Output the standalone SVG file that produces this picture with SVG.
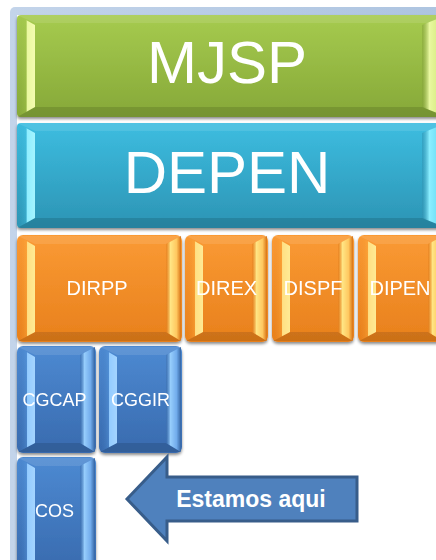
<svg xmlns="http://www.w3.org/2000/svg" width="436" height="560" viewBox="0 0 436 560">
  <defs>
    <linearGradient id="frameG" x1="0" y1="0" x2="1" y2="0">
      <stop offset="0" stop-color="#c3d4ea"/>
      <stop offset="1" stop-color="#adc4e0"/>
    </linearGradient>
    <linearGradient id="greenF" x1="0" y1="0" x2="0" y2="1">
      <stop offset="0" stop-color="#a6cb4f"/>
      <stop offset="1" stop-color="#86a838"/>
    </linearGradient>
    <linearGradient id="tealF" x1="0" y1="0" x2="0" y2="1">
      <stop offset="0" stop-color="#3dbde0"/>
      <stop offset="1" stop-color="#2c94b4"/>
    </linearGradient>
    <linearGradient id="orangeF" x1="0" y1="0" x2="0" y2="1">
      <stop offset="0" stop-color="#fa9a34"/>
      <stop offset="1" stop-color="#e8801c"/>
    </linearGradient>
    <linearGradient id="blueF" x1="0" y1="0" x2="0" y2="1">
      <stop offset="0" stop-color="#4d8ad2"/>
      <stop offset="1" stop-color="#386aae"/>
    </linearGradient>
    <linearGradient id="greenL" x1="0" y1="0" x2="1" y2="0">
      <stop offset="0" stop-color="#8fb040" stop-opacity="0"/>
      <stop offset="0.5" stop-color="#a8c850" stop-opacity="0.4"/>
      <stop offset="0.56" stop-color="#eaf8a0"/>
      <stop offset="1" stop-color="#f4fcb0"/>
    </linearGradient>
    <linearGradient id="greenR" x1="0" y1="0" x2="1" y2="0">
      <stop offset="0" stop-color="#7f9e34" stop-opacity="0.5"/>
      <stop offset="0.3" stop-color="#e9f8a0"/>
      <stop offset="0.7" stop-color="#d6ec80"/>
      <stop offset="1" stop-color="#7a9a32"/>
    </linearGradient>
    <linearGradient id="tealL" x1="0" y1="0" x2="1" y2="0">
      <stop offset="0" stop-color="#2f9cbc" stop-opacity="0"/>
      <stop offset="0.5" stop-color="#48c0e0" stop-opacity="0.4"/>
      <stop offset="0.56" stop-color="#90eeff"/>
      <stop offset="1" stop-color="#a4f4ff"/>
    </linearGradient>
    <linearGradient id="tealR" x1="0" y1="0" x2="1" y2="0">
      <stop offset="0" stop-color="#2a8eae" stop-opacity="0.5"/>
      <stop offset="0.3" stop-color="#8aeeff"/>
      <stop offset="0.7" stop-color="#6adcf4"/>
      <stop offset="1" stop-color="#2a8aa8"/>
    </linearGradient>
    <linearGradient id="orangeL" x1="0" y1="0" x2="1" y2="0">
      <stop offset="0" stop-color="#e8841e" stop-opacity="0"/>
      <stop offset="0.5" stop-color="#ffb040" stop-opacity="0.4"/>
      <stop offset="0.56" stop-color="#ffe084"/>
      <stop offset="1" stop-color="#ffea94"/>
    </linearGradient>
    <linearGradient id="orangeR" x1="0" y1="0" x2="1" y2="0">
      <stop offset="0" stop-color="#e07818" stop-opacity="0.5"/>
      <stop offset="0.3" stop-color="#ffe584"/>
      <stop offset="0.7" stop-color="#ffc860"/>
      <stop offset="1" stop-color="#d87214"/>
    </linearGradient>
    <linearGradient id="blueL" x1="0" y1="0" x2="1" y2="0">
      <stop offset="0" stop-color="#3a70b4" stop-opacity="0"/>
      <stop offset="0.5" stop-color="#5a9ce0" stop-opacity="0.4"/>
      <stop offset="0.56" stop-color="#94ccff"/>
      <stop offset="1" stop-color="#a4d4ff"/>
    </linearGradient>
    <linearGradient id="blueR" x1="0" y1="0" x2="1" y2="0">
      <stop offset="0" stop-color="#3668a8" stop-opacity="0.5"/>
      <stop offset="0.3" stop-color="#96cdfc"/>
      <stop offset="0.7" stop-color="#72acec"/>
      <stop offset="1" stop-color="#3464a2"/>
    </linearGradient>
    <filter id="sh" x="-10%" y="-10%" width="120%" height="130%">
      <feDropShadow dx="0" dy="2" stdDeviation="1.5" flood-color="#000" flood-opacity="0.45"/>
    </filter>
    <style>
      .node { filter: url(#sh); }
      .bt { fill: #ffffff; fill-opacity: 0.1; }
      .bb { fill: #000000; fill-opacity: 0.12; }
      .green .face { fill: url(#greenF); }
      .green .bl { fill: url(#greenL); }
      .green .br { fill: url(#greenR); }
      .teal .face { fill: url(#tealF); }
      .teal .bl { fill: url(#tealL); }
      .teal .br { fill: url(#tealR); }
      .orange .face { fill: url(#orangeF); }
      .orange .bl { fill: url(#orangeL); }
      .orange .br { fill: url(#orangeR); }
      .blue .face { fill: url(#blueF); }
      .blue .bl { fill: url(#blueL); }
      .blue .br { fill: url(#blueR); }
      text { font-family: "Liberation Sans", Arial, sans-serif; fill: #ffffff; text-anchor: middle; }
      .big { font-size: 60px; }
      .mid { font-size: 20px; }
      .sm { font-size: 18px; }
      .arrow { fill: #4f81bd; stroke: #385d8a; stroke-width: 3; stroke-linejoin: miter; }
      .atext { font-size: 23px; font-weight: bold; }
    </style>
  </defs>

  <rect x="0" y="0" width="436" height="560" fill="#ffffff"/>
  <g id="frame">
    <rect x="10" y="7" width="440" height="570" rx="5" fill="url(#frameG)"/>
    <rect x="17" y="15" width="430" height="560" fill="#ffffff"/>
  </g>

  <g id="mjsp" class="node green">
    <rect class="face" x="17" y="15" width="430" height="102" rx="4"/>
    <polygon class="bt" points="17,15 447,15 437,23 35,23"/>
    <polygon class="bb" points="17,117 447,117 437,107 35,107"/>
    <polygon class="bl" points="17,15 35,25 35,107 17,117"/>
    <polygon class="br" points="447,15 422,25 422,107 447,117"/>
    <text class="big" x="227" y="83">MJSP</text>
  </g>

  <g id="depen" class="node teal">
    <rect class="face" x="17" y="123" width="430" height="105" rx="4"/>
    <polygon class="bt" points="17,123 447,123 437,131 35,131"/>
    <polygon class="bb" points="17,228 447,228 437,218 35,218"/>
    <polygon class="bl" points="17,123 35,133 35,218 17,228"/>
    <polygon class="br" points="447,123 422,133 422,218 447,228"/>
    <text class="big" x="227" y="193">DEPEN</text>
  </g>

  <g id="dirpp" class="node orange">
    <rect class="face" x="17" y="235" width="165" height="107" rx="6"/>
    <polygon class="bt" points="18,236 181,236 166,244 35,244"/>
    <polygon class="bb" points="18,341 181,341 166,332 35,332"/>
    <polygon class="bl" points="18,236 35,246 35,332 18,341"/>
    <polygon class="br" points="181,236 166,244 166,332 181,341"/>
    <text class="mid" x="97" y="295">DIRPP</text>
  </g>

  <g id="direx" class="node orange">
    <rect class="face" x="185" y="235" width="83" height="107" rx="6"/>
    <polygon class="bt" points="186,236 267,236 252,244 203,244"/>
    <polygon class="bb" points="186,341 267,341 252,332 203,332"/>
    <polygon class="bl" points="186,236 203,246 203,332 186,341"/>
    <polygon class="br" points="267,236 252,244 252,332 267,341"/>
    <text class="mid" x="226.5" y="295">DIREX</text>
  </g>

  <g id="dispf" class="node orange">
    <rect class="face" x="272" y="235" width="82" height="107" rx="6"/>
    <polygon class="bt" points="273,236 353,236 338,244 290,244"/>
    <polygon class="bb" points="273,341 353,341 338,332 290,332"/>
    <polygon class="bl" points="273,236 290,246 290,332 273,341"/>
    <polygon class="br" points="353,236 338,244 338,332 353,341"/>
    <text class="mid" x="313" y="295">DISPF</text>
  </g>

  <g id="dipen" class="node orange">
    <rect class="face" x="358" y="235" width="86" height="107" rx="6"/>
    <polygon class="bt" points="359,236 443,236 428,244 376,244"/>
    <polygon class="bb" points="359,341 443,341 428,332 376,332"/>
    <polygon class="bl" points="359,236 376,246 376,332 359,341"/>
    <polygon class="br" points="443,236 428,244 428,332 443,341"/>
    <text class="mid" x="400" y="295">DIPEN</text>
  </g>

  <g id="cgcap" class="node blue">
    <rect class="face" x="17" y="346" width="79" height="107" rx="6"/>
    <polygon class="bt" points="18,347 95,347 80,355 35,355"/>
    <polygon class="bb" points="18,452 95,452 80,443 35,443"/>
    <polygon class="bl" points="18,347 35,357 35,443 18,452"/>
    <polygon class="br" points="95,347 80,355 80,443 95,452"/>
    <text class="sm" x="54.5" y="406">CGCAP</text>
  </g>

  <g id="cggir" class="node blue">
    <rect class="face" x="99" y="346" width="83" height="107" rx="6"/>
    <polygon class="bt" points="100,347 181,347 166,355 117,355"/>
    <polygon class="bb" points="100,452 181,452 166,443 117,443"/>
    <polygon class="bl" points="100,347 117,357 117,443 100,452"/>
    <polygon class="br" points="181,347 166,355 166,443 181,452"/>
    <text class="sm" x="140.5" y="406">CGGIR</text>
  </g>

  <g id="cos" class="node blue">
    <rect class="face" x="17" y="457" width="79" height="115" rx="6"/>
    <polygon class="bt" points="18,458 95,458 80,466 35,466"/>
    <polygon class="bb" points="18,571 95,571 80,562 35,562"/>
    <polygon class="bl" points="18,458 35,468 35,562 18,571"/>
    <polygon class="br" points="95,458 80,466 80,562 95,571"/>
    <text class="sm" x="54.5" y="517">COS</text>
  </g>

  <g id="connectors">
    <g id="callout">
      <polygon class="arrow" points="127,499 167,457 167,477 357,477 357,521 167,521 167,541"/>
      <text class="atext" x="251" y="507">Estamos aqui</text>
    </g>
  </g>
</svg>
